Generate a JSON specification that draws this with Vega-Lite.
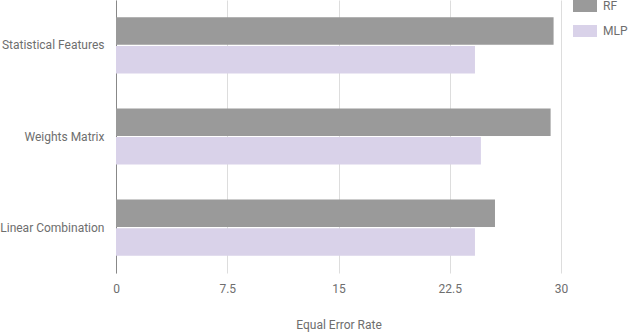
{
  "$schema": "https://vega.github.io/schema/vega-lite/v6.json",
  "autosize": "none",
  "width": 445,
  "height": 273,
  "padding": {"left": 116, "top": 0, "right": 67, "bottom": 59},
  "background": "white",
  "config": {
    "font": "Roboto",
    "view": {"stroke": null},
    "axis": {"labelFont": "Roboto", "titleFont": "Roboto", "labelColor": "#6e6e6e", "titleColor": "#6e6e6e", "labelFontSize": 12, "titleFontSize": 12, "titleFontWeight": "normal"}
  },
  "data": {
    "values": [
      {"feature": "Statistical Features", "model": "RF", "eer": 29.5},
      {"feature": "Statistical Features", "model": "MLP", "eer": 24.2},
      {"feature": "Weights Matrix", "model": "RF", "eer": 29.3},
      {"feature": "Weights Matrix", "model": "MLP", "eer": 24.6},
      {"feature": "Linear Combination", "model": "RF", "eer": 25.55},
      {"feature": "Linear Combination", "model": "MLP", "eer": 24.2}
    ]
  },
  "mark": {"type": "bar"},
  "encoding": {
    "y": {
      "field": "feature", "type": "nominal", "sort": null,
      "scale": {"paddingInner": 0.385, "paddingOuter": 0.19},
      "axis": {"title": null, "ticks": false, "labelPadding": 12, "domainColor": "#888888", "grid": false}
    },
    "yOffset": {"field": "model", "sort": ["RF", "MLP"], "scale": {"paddingInner": 0.04}},
    "x": {
      "field": "eer", "type": "quantitative",
      "scale": {"domain": [0, 30], "nice": false},
      "axis": {"title": "Equal Error Rate", "values": [0, 7.5, 15, 22.5, 30], "format": ".1~f", "labelFlush": false, "ticks": false, "domain": false, "gridColor": "#dddddd", "labelPadding": 10, "titlePadding": 25}
    },
    "color": {
      "field": "model", "type": "nominal", "sort": ["RF", "MLP"],
      "scale": {"domain": ["RF", "MLP"], "range": ["#9a9a9a", "#d9d2e9"]},
      "legend": {
        "title": null, "orient": "none", "legendX": 457, "legendY": -6,
        "symbolType": "M-1,-0.5H1V0.5H-1Z", "symbolSize": 576, "symbolStrokeWidth": 0,
        "symbolOpacity": 1, "labelFontSize": 12, "labelColor": "#6e6e6e", "labelFont": "Roboto",
        "rowPadding": 7, "labelOffset": 6
      }
    }
  }
}
